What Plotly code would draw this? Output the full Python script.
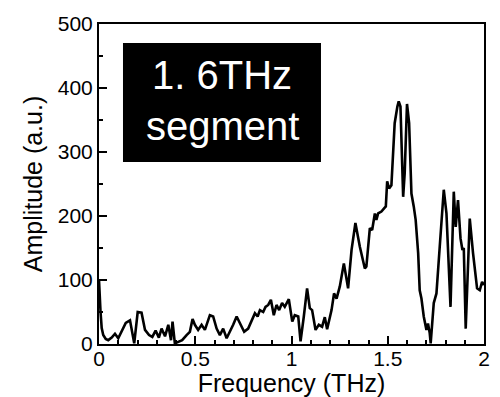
import plotly.graph_objects as go

freq = [0.000, 0.004, 0.008, 0.014, 0.022, 0.035, 0.048, 0.066, 0.083, 0.100,
        0.118, 0.139, 0.161, 0.173, 0.183, 0.201, 0.221, 0.239, 0.260, 0.277,
        0.294, 0.311, 0.325, 0.343, 0.360, 0.374, 0.382, 0.394, 0.415, 0.432,
        0.455, 0.472, 0.486, 0.498, 0.515, 0.533, 0.550, 0.576, 0.593, 0.611,
        0.628, 0.645, 0.663, 0.680, 0.697, 0.715, 0.732, 0.754, 0.775, 0.793,
        0.810, 0.824, 0.836, 0.853, 0.865, 0.879, 0.893, 0.908, 0.922, 0.936,
        0.951, 0.965, 0.986, 1.004, 1.017, 1.035, 1.047, 1.064, 1.081, 1.095,
        1.107, 1.125, 1.142, 1.159, 1.173, 1.185, 1.208, 1.221, 1.234, 1.251,
        1.272, 1.294, 1.312, 1.332, 1.355, 1.381, 1.389, 1.407, 1.419, 1.433,
        1.441, 1.450, 1.467, 1.481, 1.490, 1.497, 1.507, 1.519, 1.536, 1.550,
        1.557, 1.566, 1.580, 1.588, 1.600, 1.611, 1.623, 1.635, 1.645, 1.658,
        1.666, 1.675, 1.687, 1.701, 1.709, 1.718, 1.723, 1.739, 1.753, 1.770,
        1.791, 1.805, 1.826, 1.843, 1.853, 1.865, 1.878, 1.888, 1.895, 1.905,
        1.926, 1.943, 1.964, 1.978, 1.990, 2.000]
amplitude = [100, 70, 50, 25, 14, 8, 6, 10, 16, 9,
             19, 33, 37, 17, 1, 50, 49, 22, 14, 11,
             21, 10, 24, 12, 30, 6, 35, 1, 4, 6,
             14, 19, 39, 30, 22, 30, 22, 45, 43, 24,
             14, 24, 9, 19, 30, 43, 32, 19, 24, 35,
             48, 43, 53, 50, 58, 61, 69, 45, 61, 53,
             64, 58, 70, 35, 45, 43, 4, 43, 87, 56,
             53, 22, 30, 27, 42, 23, 53, 79, 71, 90,
             126, 87, 147, 189, 152, 118, 121, 181, 178, 204,
             194, 204, 207, 212, 215, 254, 243, 248, 345, 371,
             379, 371, 230, 267, 375, 345, 235, 215, 194, 142,
             84, 71, 43, 22, 32, 17, 1, 64, 79, 152,
             241, 204, 58, 238, 183, 225, 165, 147, 150, 24,
             196, 142, 87, 84, 97, 92]

x_ticks = [0, 0.5, 1, 1.5, 2]
x_tick_labels = ["0", "0.5", "1", "1.5", "2"]
y_ticks = [0, 100, 200, 300, 400, 500]
y_tick_labels = ["0", "100", "200", "300", "400", "500"]

FONT = "Liberation Sans, Arial, sans-serif"

fig = go.Figure()
fig.add_trace(go.Scatter(x=freq, y=amplitude, mode="lines",
                         line=dict(color="black", width=2.6),
                         showlegend=False, hoverinfo="skip"))

axis_common = dict(showgrid=False, zeroline=False, showline=True, linecolor="black",
                   linewidth=2, mirror=True, ticks="inside", ticklen=8, tickwidth=2,
                   tickcolor="black", automargin=False,
                   tickfont=dict(family=FONT, size=21, color="black"))

fig.update_xaxes(range=[0, 2], tickvals=x_ticks, ticktext=x_tick_labels,
                 ticklabelstandoff=-5,
                 minor=dict(dtick=0.1, ticks="inside", ticklen=4, tickwidth=2, tickcolor="black"),
                 title=dict(text="Frequency (THz)", font=dict(family=FONT, size=25, color="black"),
                            standoff=0),
                 **axis_common)
fig.update_yaxes(range=[0, 500], tickvals=y_ticks, ticktext=y_tick_labels,
                 minor=dict(dtick=50, ticks="inside", ticklen=4, tickwidth=2, tickcolor="black"),
                 title=dict(text="Amplitude (a.u.)", font=dict(family=FONT, size=25, color="black"),
                            standoff=8),
                 **axis_common)

fig.add_shape(type="rect", xref="paper", yref="paper", x0=0.0623, x1=0.5766, y0=0.569, y1=0.941,
              fillcolor="black", line=dict(width=0), layer="above")
fig.add_annotation(text="1. 6THz", xref="paper", yref="paper", x=0.3195, y=0.842,
                   xanchor="center", yanchor="middle", showarrow=False,
                   font=dict(family=FONT, size=40, color="white"))
fig.add_annotation(text="segment", xref="paper", yref="paper", x=0.3195, y=0.680,
                   xanchor="center", yanchor="middle", showarrow=False,
                   font=dict(family=FONT, size=40, color="white"))

# page has an 8px body margin, so the figure is 492x389 placed at (8, 8)
fig.update_layout(width=492, height=389, margin=dict(l=91, r=16, t=16, b=53),
                  plot_bgcolor="white", paper_bgcolor="white",
                  font=dict(family=FONT, color="black"))

fig.write_html("out.html")
